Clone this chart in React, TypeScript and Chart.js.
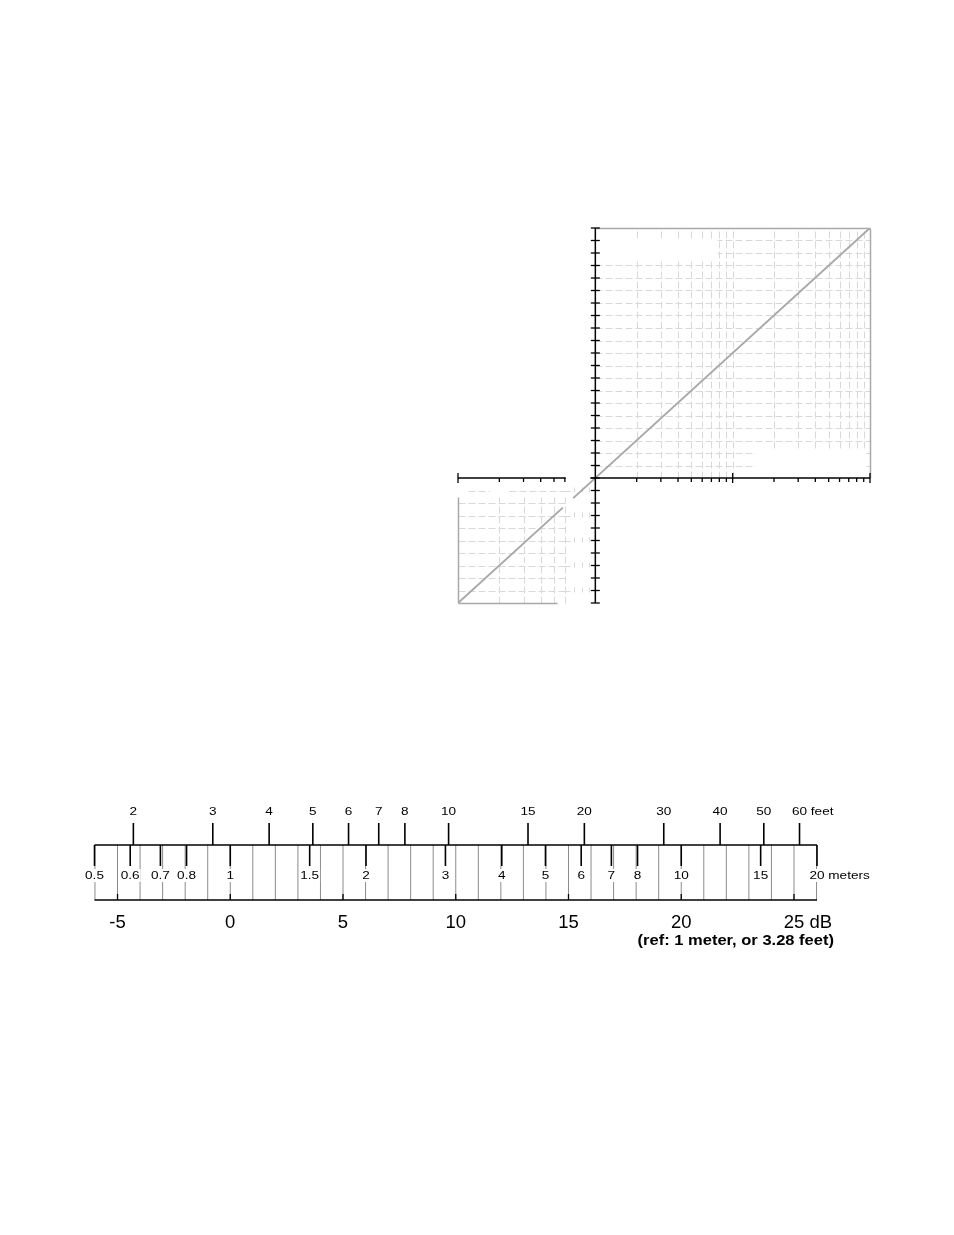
import { useEffect, useRef } from 'react'
import { Chart, registerables } from 'chart.js'

Chart.register(...registerables)

// ---- log-log plot (level in dB vs. distance ratio) ----
const Y_TICKS = [-10, -9, -8, -7, -6, -5, -4, -3, -2, -1, 0, 1, 2, 3, 4, 5, 6, 7, 8, 9, 10, 11, 12, 13, 14, 15, 16, 17, 18, 19, 20]
const X_TICKS_LOW = [0.1, 0.2, 0.3, 0.4, 0.5, 0.6]
const X_TICKS_HIGH = [2, 3, 4, 5, 6, 7, 8, 9, 10, 20, 30, 40, 50, 60, 70, 80, 90, 100]
const X_MAJOR = [0.1, 10, 100]
const X_STUBS = [0.7, 0.8, 0.9]
const Y_STUB_ROWS = [-1, -3, -5, -7, -9]
const LINE_LOW_X = [0.1, 0.58]
const LINE_LOW_Y = [-10, -2.37]
const LINE_HIGH_X = [0.69, 100]
const LINE_HIGH_Y = [-1.61, 20]

// ---- distance / dB scale ----
const METERS = [0.5, 0.6, 0.7, 0.8, 1, 1.5, 2, 3, 4, 5, 6, 7, 8, 10, 15, 20]
const FEET = [2, 3, 4, 5, 6, 7, 8, 10, 15, 20, 30, 40, 50, 60]
const DB_LABELS = [-5, 0, 5, 10, 15, 20, 25]
const FEET_PER_METER = 3.28
const REF_NOTE = '(ref: 1 meter, or 3.28 feet)'

const FONT = '"Liberation Sans", Arial, Helvetica, sans-serif'
// the original lettering is a little wider than Arial
const STRETCH = 1.18

const toDb = (m: number) => 20 * Math.log10(m)

function line(ctx: CanvasRenderingContext2D, x1: number, y1: number, x2: number, y2: number) {
  ctx.beginPath()
  ctx.moveTo(x1, y1)
  ctx.lineTo(x2, y2)
  ctx.stroke()
}

// snap to the pixel grid so the 1px dashes stay crisp
const crisp = (v: number) => Math.round(v) + 0.5

const plotPlugin = {
  id: 'plotGrid',
  beforeDatasetsDraw(chart: any) {
    const { ctx } = chart
    const px = (v: number) => crisp(chart.scales.x.getPixelForValue(v))
    const py = (v: number) => crisp(chart.scales.y.getPixelForValue(v))
    ctx.save()
    ctx.strokeStyle = '#d9d9d9'
    ctx.lineWidth = 1
    ctx.setLineDash([7, 3])
    // upper right grid
    X_TICKS_HIGH.filter(v => v < 100).forEach(v => line(ctx, px(v), py(0), px(v), py(20)))
    Y_TICKS.filter(v => v > 0 && v < 20).forEach(v => line(ctx, px(1), py(v), px(100), py(v)))
    // lower left grid
    X_TICKS_LOW.filter(v => v > 0.1).forEach(v => line(ctx, px(v), py(-10), px(v), py(-1.5)))
    Y_TICKS.filter(v => v < -1 && v > -10).forEach(v => line(ctx, px(0.1), py(v), px(0.6), py(v)))
    line(ctx, px(0.1176), py(-1), px(0.167), py(-1))
    line(ctx, px(0.237), py(-1), px(0.6), py(-1))
    ctx.setLineDash([])
    Y_STUB_ROWS.forEach(r => {
      line(ctx, px(0.6), py(r), px(0.65), py(r))
      X_STUBS.forEach(s => line(ctx, px(s), py(r + 0.3), px(s), py(r - 0.15)))
    })
    // blank patches in the grid
    ctx.fillStyle = '#ffffff'
    ctx.fillRect(px(1.03), py(19.15), px(7.7) - px(1.03), py(17.45) - py(19.15))
    ctx.fillRect(px(14.5), py(2.3), px(93) - px(14.5), py(0.08) - py(2.3))
    // frame
    ctx.strokeStyle = '#a8a8a8'
    ctx.lineWidth = 1.5
    line(ctx, px(1), py(20), px(100), py(20))
    line(ctx, px(100), py(20), px(100), py(0))
    line(ctx, px(0.1), py(-1.5), px(0.1), py(-10))
    line(ctx, px(0.1), py(-10), px(0.53), py(-10))
    ctx.restore()
  },
  afterDatasetsDraw(chart: any) {
    const { ctx } = chart
    const px = (v: number) => chart.scales.x.getPixelForValue(v)
    const py = (v: number) => chart.scales.y.getPixelForValue(v)
    ctx.save()
    ctx.strokeStyle = '#000000'
    ctx.lineWidth = 1.5
    const x0 = px(1)
    const y0 = py(0)
    line(ctx, x0, py(-10), x0, py(20))
    line(ctx, px(0.1), y0, px(0.61), y0)
    line(ctx, px(0.92), y0, px(100), y0)
    ctx.lineWidth = 1.3
    Y_TICKS.forEach(v => line(ctx, x0 - 4.5, py(v), x0 + 4.5, py(v)))
    ;[...X_TICKS_LOW, ...X_TICKS_HIGH].forEach(v => {
      const major = X_MAJOR.includes(v)
      line(ctx, px(v), major ? y0 - 5 : y0, px(v), y0 + (major ? 5 : 4))
    })
    ctx.restore()
  }
}

const scalePlugin = {
  id: 'distanceScale',
  afterDraw(chart: any) {
    const { ctx, chartArea } = chart
    const xs = chart.scales.x
    const top = chartArea.top
    const bottom = chartArea.bottom
    const left = xs.getPixelForValue(toDb(METERS[0]))
    const right = xs.getPixelForValue(toDb(METERS[METERS.length - 1]))
    ctx.save()
    // 1 dB divisions
    ctx.strokeStyle = '#8c8c8c'
    ctx.lineWidth = 1
    for (let d = Math.ceil(xs.min); d <= Math.floor(xs.max); d++) {
      line(ctx, xs.getPixelForValue(d), top, xs.getPixelForValue(d), bottom)
    }
    ctx.strokeStyle = '#000000'
    ctx.lineWidth = 1.3
    line(ctx, left, top, right, top)
    line(ctx, left, bottom, right, bottom)

    ctx.fillStyle = '#000000'
    ctx.textBaseline = 'alphabetic'
    ctx.textAlign = 'left'

    const text = (s: string, x: number, y: number, sx: number) => {
      ctx.save()
      ctx.translate(x, y)
      ctx.scale(sx, 1)
      ctx.fillText(s, 0, 0)
      ctx.restore()
    }
    // number centred on its tick, unit (if any) running on to the right
    const label = (s: string, unit: string, x: number, y: number, sx: number, clear: boolean) => {
      const w = ctx.measureText(s).width * sx
      if (clear) {
        ctx.fillStyle = '#ffffff'
        ctx.fillRect(x - w / 2 - 1, y - 10, w + 2, 13)
        ctx.fillStyle = '#000000'
      }
      text(s, x - w / 2, y, sx)
      if (unit) text(' ' + unit, x + w / 2, y, sx)
    }

    // meters, below the top rule
    ctx.font = `11.5px ${FONT}`
    ctx.lineWidth = 1.6
    METERS.forEach((m, i) => {
      const x = xs.getPixelForValue(toDb(m))
      line(ctx, x, top, x, top + 21)
      label(String(m), i === METERS.length - 1 ? 'meters' : '', x, top + 34, STRETCH, true)
    })

    // feet, above the top rule
    FEET.forEach((f, i) => {
      const x = xs.getPixelForValue(toDb(f / FEET_PER_METER))
      line(ctx, x, top, x, top - 22)
      label(String(f), i === FEET.length - 1 ? 'feet' : '', x, top - 30, STRETCH, false)
    })

    // dB scale
    ctx.lineWidth = 1.3
    ctx.font = `18.5px ${FONT}`
    DB_LABELS.forEach((d, i) => {
      const x = xs.getPixelForValue(d)
      line(ctx, x, bottom, x, bottom - 6)
      label(String(d), i === DB_LABELS.length - 1 ? 'dB' : '', x, bottom + 28, 1, false)
    })

    ctx.font = `bold 14px ${FONT}`
    ctx.textAlign = 'right'
    text(REF_NOTE, right + 17, bottom + 45, STRETCH)
    ctx.restore()
  }
}

function LevelPlot() {
  const canvasRef = useRef<HTMLCanvasElement>(null)
  const chartRef = useRef<Chart | null>(null)

  useEffect(() => {
    if (!canvasRef.current) return
    if (chartRef.current) chartRef.current.destroy()

    const toPoints = (xs: number[], ys: number[]) => xs.map((x, i) => ({ x, y: ys[i] }))
    const lineStyle = {
      showLine: true,
      borderColor: '#a8a8a8',
      borderWidth: 2,
      pointRadius: 0,
      fill: false
    }

    chartRef.current = new Chart(canvasRef.current, {
      type: 'scatter',
      data: {
        datasets: [
          { data: toPoints(LINE_LOW_X, LINE_LOW_Y), ...lineStyle },
          { data: toPoints(LINE_HIGH_X, LINE_HIGH_Y), ...lineStyle }
        ]
      },
      options: {
        responsive: false,
        animation: false,
        layout: { padding: { left: 38, right: 30, top: 18, bottom: 17 } },
        plugins: { legend: { display: false }, tooltip: { enabled: false } },
        scales: {
          x: { type: 'logarithmic', min: 0.1, max: 100, display: false },
          y: { type: 'linear', min: -10, max: 20, display: false }
        }
      },
      plugins: [plotPlugin]
    } as any)

    return () => {
      if (chartRef.current) {
        chartRef.current.destroy()
        chartRef.current = null
      }
    }
  }, [])

  return (
    <canvas
      ref={canvasRef}
      width={480}
      height={410}
      style={{ position: 'absolute', left: 420, top: 210, width: 480, height: 410 }}
    />
  )
}

function DistanceScale() {
  const canvasRef = useRef<HTMLCanvasElement>(null)
  const chartRef = useRef<Chart | null>(null)

  useEffect(() => {
    if (!canvasRef.current) return
    if (chartRef.current) chartRef.current.destroy()

    chartRef.current = new Chart(canvasRef.current, {
      type: 'scatter',
      data: { datasets: [] },
      options: {
        responsive: false,
        animation: false,
        layout: { padding: { left: 34.5, right: 83, top: 55, bottom: 60 } },
        plugins: { legend: { display: false }, tooltip: { enabled: false } },
        scales: {
          x: { type: 'linear', min: toDb(METERS[0]), max: toDb(METERS[METERS.length - 1]), display: false },
          y: { type: 'linear', min: 0, max: 1, display: false }
        }
      },
      plugins: [scalePlugin]
    } as any)

    return () => {
      if (chartRef.current) {
        chartRef.current.destroy()
        chartRef.current = null
      }
    }
  }, [])

  return (
    <canvas
      ref={canvasRef}
      width={840}
      height={170}
      style={{ position: 'absolute', left: 60, top: 790, width: 840, height: 170 }}
    />
  )
}

export default function App() {
  return (
    <div style={{ position: 'absolute', left: 0, top: 0, width: 954, height: 1235, background: '#ffffff' }}>
      <LevelPlot />
      <DistanceScale />
    </div>
  )
}
